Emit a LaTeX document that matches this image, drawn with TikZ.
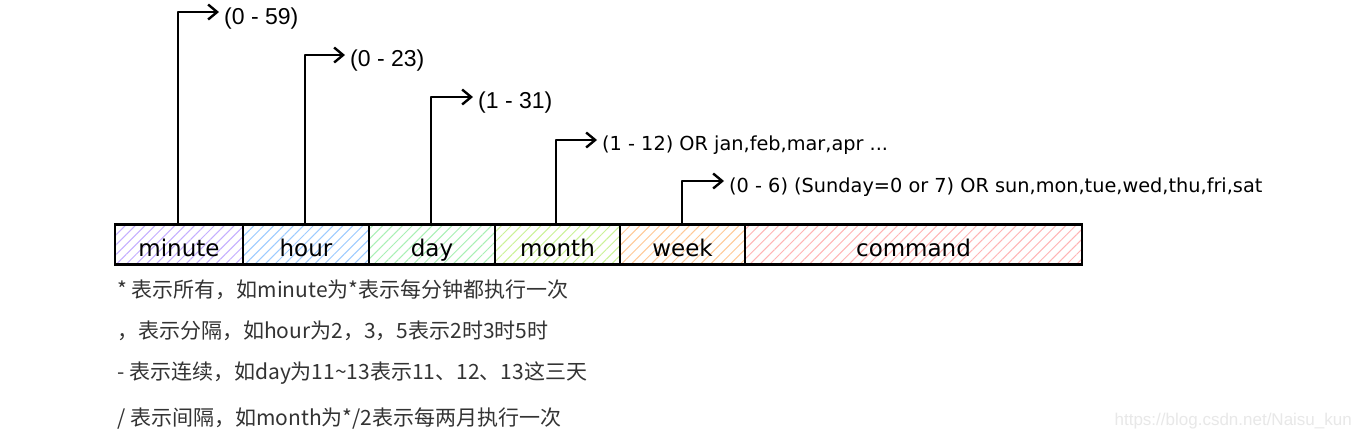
\documentclass[tikz,border=0pt]{standalone}
\usepackage{fontspec}
\setmainfont{DejaVu Sans}
\newfontfamily\cjk{Noto Sans CJK SC}
\newfontfamily\arialf{Liberation Sans}
\usetikzlibrary{arrows.meta,patterns.meta}
\definecolor{cviolet}{HTML}{C4AEFF}
\definecolor{cblue}{HTML}{9CCBFF}
\definecolor{cgreen}{HTML}{A8F0B4}
\definecolor{clime}{HTML}{CBF296}
\definecolor{corange}{HTML}{FFC996}
\definecolor{cred}{HTML}{FFB4B4}
\definecolor{txt}{HTML}{333333}
\begin{document}
\begin{tikzpicture}[x=1pt,y=-1pt,
  cell/.style={draw=black, line width=2.8pt, minimum height=40pt, inner sep=0pt,
    text height=25pt, text depth=2pt,
    font=\fontsize{23}{26}\selectfont,
    pattern={Lines[angle=45,distance=7pt,line width=1pt]}},
  arr/.style={line width=2.6pt, line join=round,
    -{Straight Barb[length=9pt,width=15pt,line width=2.4pt]}, shorten >=5pt},
  lblA/.style={anchor=west, inner sep=0pt, font=\arialf\fontsize{23}{26}\selectfont},
  lblB/.style={anchor=west, inner sep=0pt, font=\fontsize{19.3}{23}\selectfont},
  note/.style={anchor=west, inner sep=0pt, text=txt, font=\cjk\fontsize{21}{25}\selectfont}
]
\useasboundingbox (0,0) rectangle (1360,440);
\fill[white] (0,0) rectangle (1360,440);

% cells
\node[cell, minimum width=128pt, pattern color=cviolet] (minute)  at (179,244.5) {minute};
\node[cell, minimum width=126pt, pattern color=cblue]   (hour)    at (306,244.5) {hour};
\node[cell, minimum width=126pt, pattern color=cgreen]  (day)     at (432,244.5) {day};
\node[cell, minimum width=125pt, pattern color=clime]   (month)   at (557.5,244.5) {month};
\node[cell, minimum width=125pt, pattern color=corange] (week)    at (682.5,244.5) {week};
\node[cell, minimum width=337pt, pattern color=cred]    (command) at (913.5,244.5) {command};

% labels
\node[lblA] (l1) at (224,19) {(0 - 59)};
\node[lblA] (l2) at (350,61) {(0 - 23)};
\node[lblA] (l3) at (478,103) {(1 - 31)};
\node[lblB] (l4) at (602,145) {(1 - 12) OR jan,feb,mar,apr ...};
\node[lblB] (l5) at (729,187) {(0 - 6) (Sunday=0 or 7) OR sun,mon,tue,wed,thu,fri,sat};

% corners
\coordinate (c1) at (178,12);
\coordinate (c2) at (305,55);
\coordinate (c3) at (431,97);
\coordinate (c4) at (556,140);
\coordinate (c5) at (682,181);

\draw[arr] (minute.north -| c1) -- (c1) -- (l1.west |- c1);
\draw[arr] (hour.north -| c2)   -- (c2) -- (l2.west |- c2);
\draw[arr] (day.north -| c3)    -- (c3) -- (l3.west |- c3);
\draw[arr] (month.north -| c4)  -- (c4) -- (l4.west |- c4);
\draw[arr] (week.north -| c5)   -- (c5) -- (l5.west |- c5);

% notes
\node[note] (n1) at (117,290) {* 表示所有，如minute为*表示每分钟都执行一次};
\node[note] (n2) at (117,331) {，表示分隔，如hour为2，3，5表示2时3时5时};
\node[note] (n3) at (117,373) {- 表示连续，如day为11\textasciitilde 13表示11、12、13这三天};
\node[note] (n4) at (117,418) {/ 表示间隔，如month为*/2表示每两月执行一次};

% watermark
\node[anchor=east, inner sep=0pt, text=black!9, font=\arialf\fontsize{17}{20}\selectfont] (wm) at (1352,421) {https://blog.csdn.net/Naisu\_kun};
\end{tikzpicture}
\end{document}
